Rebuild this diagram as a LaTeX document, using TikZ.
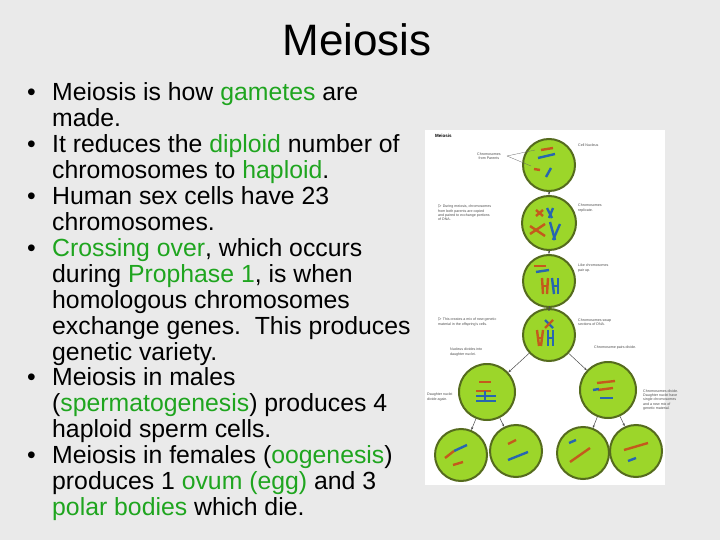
\documentclass[tikz,border=0pt]{standalone}
\usepackage{fontspec}
\setmainfont{Liberation Sans}
\usetikzlibrary{arrows.meta}
\definecolor{bg}{HTML}{EAEAEA}
\definecolor{gr}{HTML}{1FA51F}
\definecolor{cellf}{HTML}{9CD62A}
\definecolor{celld}{HTML}{556B1E}
\definecolor{chO}{HTML}{C45A1C}
\definecolor{chB}{HTML}{2766B0}
\newcommand{\g}[1]{\textcolor{gr}{#1}}
\begin{document}
\begin{tikzpicture}[x=1pt,y=-1pt,
  line/.style={anchor=base west,font=\fontsize{24.8}{27}\selectfont,inner sep=0},
  bul/.style={anchor=base west,font=\fontsize{24.8}{27}\selectfont,inner sep=0},
  cell/.style={circle,draw=celld,line width=2pt,fill=cellf,minimum size=#1},
  lab/.style={font=\fontsize{3.6}{4.2}\selectfont,align=left,anchor=west,inner sep=0,text=black!70},
  arr/.style={-{Stealth[length=3pt]},line width=0.5pt,draw=black!70},
  chO/.style={line width=2.4pt,draw=chO},
  chB/.style={line width=2.4pt,draw=chB}]
\fill[bg] (0,0) rectangle (720,540);
\useasboundingbox (0,0) rectangle (720,540);
\node[anchor=center,font=\fontsize{44}{48}\selectfont] (title) at (357,40) {Meiosis};
% bullets
\foreach \i/\t in {0/{Meiosis is how \g{gametes} are},1/{made.},2/{It reduces the \g{diploid} number of},
 3/{chromosomes to \g{haploid}.},4/{Human sex cells have 23},5/{chromosomes.},
 6/{\g{Crossing over}, which occurs},7/{during \g{Prophase 1}, is when},8/{homologous chromosomes},
 9/{exchange genes.\ \ This produces},10/{genetic variety.},11/{Meiosis in males},
 12/{(\g{spermatogenesis}) produces 4},13/{haploid sperm cells.},14/{Meiosis in females (\g{oogenesis})},
 15/{produces 1 \g{ovum (egg)} and 3},16/{\g{polar bodies} which die.}}
 \node[line] (l\i) at (52,{101+25.9*\i}) {\t};
\foreach \i in {0,2,4,6,11,14}
 \node[bul] (b\i) at (27,{101+25.9*\i}) {•};
% figure panel
\fill[white] (425,130) rectangle (665,485);
\node[anchor=west,font=\fontsize{4.5}{5}\selectfont\bfseries,inner sep=0] (mt) at (435,136) {Meiosis};
% cells
\node[cell=52pt] (c1) at (549,165) {};
\node[cell=54pt] (c2) at (549,223) {};
\node[cell=52pt] (c3) at (549,281) {};
\node[cell=52pt] (c4) at (549,335) {};
\node[cell=56pt] (d1) at (487,392) {};
\node[cell=56pt] (d2) at (608,390) {};
\node[cell=52pt] (e1) at (461,455) {};
\node[cell=52pt] (e2) at (516,451) {};
\node[cell=52pt] (e3) at (583,453) {};
\node[cell=52pt] (e4) at (636,451) {};
\draw[arr] (c1) -- (c2); \draw[arr] (c2) -- (c3); \draw[arr] (c3) -- (c4);
\draw[arr] (c4) -- (d1); \draw[arr] (c4) -- (d2);
\draw[arr] (d1) -- (e1); \draw[arr] (d1) -- (e2);
\draw[arr] (d2) -- (e3); \draw[arr] (d2) -- (e4);
% chromosomes cell1
\draw[chO] (541,150) -- (553,148); \draw[chB] (538,158) -- (555,154);
\draw[chO] (534,169) -- (540,170); \draw[chB] (546,177) -- (551,168);
% cell2
\draw[chO] (536,210) -- (543,216); \draw[chO] (536,216) -- (543,210);
\draw[chB] (547,208) -- (552,218); \draw[chB] (553,208) -- (549,218);
\draw[chO] (530,226) -- (545,236); \draw[chO] (530,234) -- (545,224);
\draw[chB] (550,222) -- (555,240); \draw[chB] (560,224) -- (553,240);
% cell3
\draw[chO] (534,266) -- (546,266); \draw[chB] (536,272) -- (549,270);
\draw[chO] (542,278) -- (543,294); \draw[chO] (548,278) -- (547,294); \draw[chO] (542,286)--(548,286);
\draw[chB] (552,278) -- (554,294); \draw[chB] (558,278) -- (558,294); \draw[chB] (552,286)--(558,286);
% cell4
\draw[chB] (545,320) -- (553,328); \draw[chO] (553,320) -- (545,328);
\draw[chO] (537,330) -- (539,346); \draw[chO] (543,330) -- (541,346); \draw[chO] (538,338)--(543,338);
\draw[chB] (548,330) -- (548,346); \draw[chB] (553,330) -- (553,346); \draw[chB] (548,338)--(553,338);
% d1
\draw[chO] (479,382) -- (491,382); \draw[chO] (476,391) -- (491,391);
\draw[chB] (476,396) -- (496,396); \draw[chB] (476,401) -- (496,401); \draw[chB] (485,391)--(485,401);
% d2
\draw[chO] (597,383) -- (615,381); \draw[chO] (598,390) -- (613,388); \draw[chB] (593,390)--(599,389);
\draw[chB] (600,398) -- (613,398);
% e
\draw[chB] (454,451) -- (467,445); \draw[chO] (445,458)--(454,451); \draw[chO] (453,465) -- (463,462);
\draw[chO] (508,444) -- (516,440); \draw[chB] (508,460) -- (528,452);
\draw[chB] (569,443) -- (576,440); \draw[chO] (570,462) -- (590,448);
\draw[chO] (624,450) -- (648,443); \draw[chB] (628,461) -- (636,458);
% labels
\node[lab,align=center] (t1) at (477,156) {Chromosomes\\from Parents};
\draw[black!60,line width=0.3pt] (507,156) -- (535,150); \draw[black!60,line width=0.3pt] (507,156) -- (531,166);
\node[lab] (t2) at (578,145) {Cell Nucleus};
\node[lab] (t3) at (438,213) {$\triangleright$ During meiosis, chromosomes\\ from both parents are copied\\ and paired to exchange portions\\ of DNA.};
\node[lab] (t4) at (578,208) {Chromosomes\\replicate.};
\node[lab] (t5) at (578,268) {Like chromosomes\\pair up.};
\node[lab] (t6) at (438,322) {$\triangleright$ This creates a mix of new genetic\\ material in the offspring's cells.};
\node[lab] (t7) at (578,322) {Chromosomes swap\\sections of DNA.};
\node[lab] (t8) at (450,352) {Nucleus divides into\\daughter nuclei.};
\node[lab] (t9) at (594,348) {Chromosome pairs divide.};
\node[lab] (t10) at (427,397) {Daughter nuclei\\divide again.};
\node[lab] (t11) at (643,400) {Chromosomes divide.\\Daughter nuclei have\\single chromosomes\\and a new mix of\\genetic material.};
\end{tikzpicture}
\end{document}
